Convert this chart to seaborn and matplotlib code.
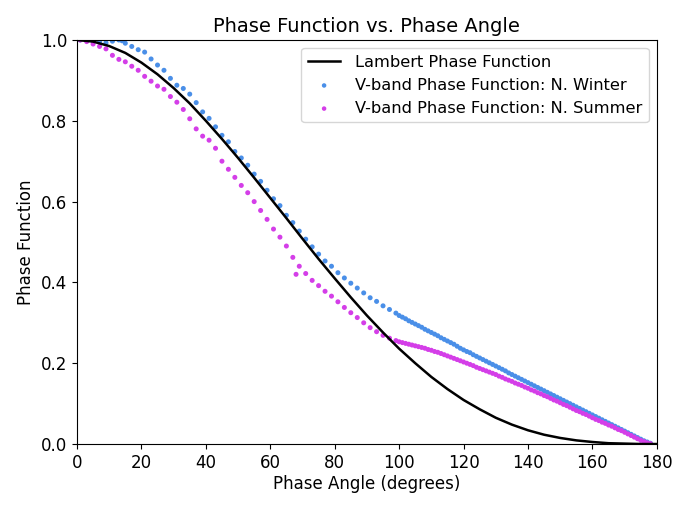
import matplotlib
matplotlib.use("Agg")
import matplotlib.pyplot as plt
import seaborn as sns
import pandas as pd

# Lambert phase function read at 5-degree steps
lambert_angle = [0, 5, 10, 15, 20, 25, 30, 35, 40, 45, 50, 55, 60, 65, 70, 75, 80, 85, 90,
                 95, 100, 105, 110, 115, 120, 125, 130, 135, 140, 145, 150, 155, 160, 165,
                 170, 175, 180]
lambert_value = [1.000, 0.996, 0.985, 0.968, 0.944, 0.915, 0.881, 0.843, 0.800, 0.755,
                 0.708, 0.659, 0.609, 0.559, 0.508, 0.458, 0.410, 0.363, 0.318, 0.276,
                 0.236, 0.200, 0.166, 0.136, 0.109, 0.086, 0.065, 0.048, 0.034, 0.023,
                 0.015, 0.009, 0.005, 0.002, 0.001, 0.000, 0.000]

# N. Winter V-band points
winter_angle = [1, 3, 5, 7, 9, 11, 13, 14, 15, 17, 19, 21, 23, 25, 27, 29, 31, 33, 35, 37,
                39, 41, 43, 45, 47, 49, 51, 53, 55, 57, 59, 61, 63, 65, 67, 69, 71, 73, 75,
                77, 79, 81, 83, 85, 87, 89, 91, 93, 95, 97, 99,
                100, 101, 102, 103, 104, 105, 106, 107, 108, 109, 110, 111, 112, 113, 114,
                115, 116, 117, 118, 119, 120, 121, 122, 123, 124, 125, 126, 127, 128, 129,
                130, 131, 132, 133, 134, 135, 136, 137, 138, 139, 140, 141, 142, 143, 144,
                145, 146, 147, 148, 149, 150, 151, 152, 153, 154, 155, 156, 157, 158, 159,
                160, 161, 162, 163, 164, 165, 166, 167, 168, 169, 170, 171, 172, 173, 174,
                175, 176, 177, 178]
winter_value = [1.000, 0.999, 0.998, 0.995, 0.993, 0.997, 1.000, 0.998, 0.992, 0.984,
                0.976, 0.970, 0.953, 0.938, 0.925, 0.905, 0.888, 0.880, 0.866, 0.845,
                0.822, 0.806, 0.785, 0.764, 0.748, 0.724, 0.708, 0.690, 0.668, 0.650,
                0.628, 0.607, 0.590, 0.566, 0.548, 0.527, 0.507, 0.488, 0.470, 0.453,
                0.440, 0.424, 0.411, 0.398, 0.386, 0.374, 0.362, 0.353, 0.342, 0.333,
                0.324,
                0.318, 0.314, 0.310, 0.305, 0.301, 0.297, 0.293, 0.289, 0.284, 0.280,
                0.276, 0.272, 0.268, 0.263, 0.259, 0.255, 0.251, 0.247, 0.242, 0.237,
                0.233, 0.229, 0.226, 0.221, 0.217, 0.213, 0.209, 0.205, 0.201, 0.197,
                0.193, 0.189, 0.185, 0.181, 0.176, 0.172, 0.168, 0.164, 0.160, 0.156,
                0.152, 0.148, 0.144, 0.140, 0.136, 0.132, 0.128, 0.124, 0.120, 0.116,
                0.112, 0.108, 0.104, 0.100, 0.096, 0.092, 0.088, 0.084, 0.080, 0.076,
                0.072, 0.068, 0.064, 0.060, 0.056, 0.052, 0.048, 0.044, 0.040, 0.036,
                0.032, 0.028, 0.024, 0.020, 0.016, 0.012, 0.008, 0.005, 0.002]

# N. Summer V-band points
summer_angle = [1, 3, 5, 7, 9, 11, 13, 15, 17, 19, 21, 23, 25, 27, 29, 31, 33, 35, 37, 39,
                41, 43, 45, 47, 49, 51, 53, 55, 57, 59, 61, 63, 65, 67, 68, 69, 71, 73, 75,
                77, 79, 81, 83, 85, 87, 89, 91, 93, 95, 97, 99,
                100, 101, 102, 103, 104, 105, 106, 107, 108, 109, 110, 111, 112, 113, 114,
                115, 116, 117, 118, 119, 120, 121, 122, 123, 124, 125, 126, 127, 128, 129,
                130, 131, 132, 133, 134, 135, 136, 137, 138, 139, 140, 141, 142, 143, 144,
                145, 146, 147, 148, 149, 150, 151, 152, 153, 154, 155, 156, 157, 158, 159,
                160, 161, 162, 163, 164, 165, 166, 167, 168, 169, 170, 171, 172, 173, 174,
                175, 176, 177, 178]
summer_value = [1.000, 0.996, 0.990, 0.984, 0.978, 0.962, 0.952, 0.946, 0.935, 0.925,
                0.910, 0.898, 0.886, 0.878, 0.860, 0.846, 0.828, 0.805, 0.780, 0.762,
                0.752, 0.732, 0.700, 0.680, 0.660, 0.640, 0.622, 0.600, 0.578, 0.556,
                0.532, 0.512, 0.490, 0.462, 0.420, 0.440, 0.422, 0.405, 0.392, 0.378,
                0.366, 0.352, 0.338, 0.325, 0.313, 0.300, 0.288, 0.278, 0.269, 0.262,
                0.256,
                0.253, 0.251, 0.249, 0.247, 0.245, 0.243, 0.241, 0.239, 0.237, 0.234,
                0.232, 0.229, 0.227, 0.224, 0.221, 0.218, 0.215, 0.212, 0.209, 0.206,
                0.203, 0.200, 0.197, 0.194, 0.190, 0.187, 0.184, 0.181, 0.178, 0.175,
                0.172, 0.168, 0.165, 0.161, 0.158, 0.155, 0.151, 0.148, 0.145, 0.141,
                0.138, 0.134, 0.131, 0.127, 0.124, 0.120, 0.117, 0.113, 0.109, 0.106,
                0.102, 0.098, 0.095, 0.091, 0.087, 0.083, 0.080, 0.076, 0.073, 0.069,
                0.065, 0.061, 0.058, 0.054, 0.051, 0.047, 0.044, 0.040, 0.036, 0.033,
                0.029, 0.025, 0.021, 0.017, 0.013, 0.009, 0.006, 0.003, 0.001]

lam_df = pd.DataFrame({"angle": lambert_angle, "value": lambert_value})
win_df = pd.DataFrame({"angle": winter_angle, "value": winter_value})
sum_df = pd.DataFrame({"angle": summer_angle, "value": summer_value})

fig = plt.figure(figsize=(6.73, 5.22), dpi=100)
ax = fig.add_axes([0.1144, 0.1494, 0.8616, 0.774])

sns.lineplot(data=lam_df, x="angle", y="value", ax=ax, color="black", linewidth=1.8,
             label="Lambert Phase Function", sort=True, estimator=None)
sns.scatterplot(data=win_df, x="angle", y="value", ax=ax, color="#4a8fe8", s=13,
                edgecolor="none", label="V-band Phase Function: N. Winter")
sns.scatterplot(data=sum_df, x="angle", y="value", ax=ax, color="#d43ee8", s=13,
                edgecolor="none", label="V-band Phase Function: N. Summer")

ax.set_xlim(0, 180)
ax.set_ylim(0, 1.0)
ax.set_xticks([0, 20, 40, 60, 80, 100, 120, 140, 160, 180])
ax.set_yticks([0.0, 0.2, 0.4, 0.6, 0.8, 1.0])
ax.tick_params(labelsize=12)
ax.set_xlabel("Phase Angle (degrees)", fontsize=12, labelpad=2)
ax.set_ylabel("Phase Function", fontsize=12)
ax.set_title("Phase Function vs. Phase Angle", fontsize=14, pad=6)
ax.legend(loc="upper right", fontsize=11.7, handlelength=2.0, handletextpad=0.9,
          markerscale=0.9)

fig.savefig("out.png", dpi=100)
